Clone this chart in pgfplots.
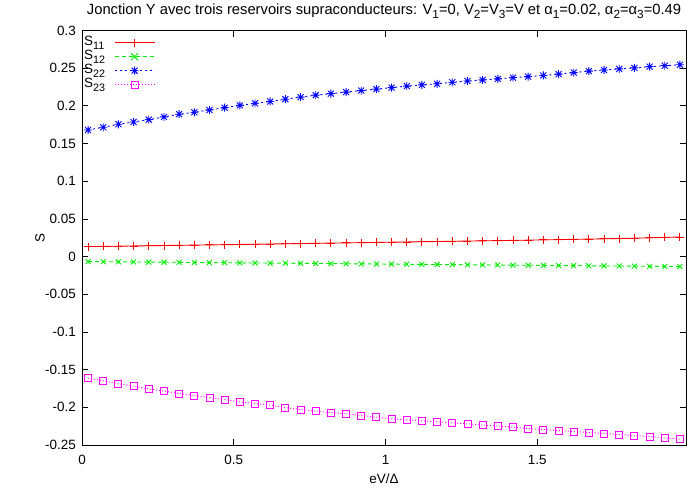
\documentclass[border=0pt]{standalone}
\usepackage{fontspec}
\setmainfont{Liberation Sans}
\usepackage{pgfplots}
\usepackage{pgfplotstable}
\pgfplotsset{compat=1.18}
\definecolor{gred}{RGB}{255,0,0}
\definecolor{ggreen}{RGB}{0,235,0}
\definecolor{gblue}{RGB}{0,0,255}
\definecolor{gmag}{RGB}{255,0,255}
\newcommand\sub[1]{\raisebox{-0.3em}{\fontsize{0.8\dimexpr\fontdimen6\font\relax}{1em}\selectfont #1}}
\pgfdeclareplotmark{pluscross}{%
  \pgfpathmoveto{\pgfqpoint{-\pgfplotmarksize}{0pt}}\pgfpathlineto{\pgfqpoint{\pgfplotmarksize}{0pt}}%
  \pgfpathmoveto{\pgfqpoint{0pt}{-\pgfplotmarksize}}\pgfpathlineto{\pgfqpoint{0pt}{\pgfplotmarksize}}%
  \pgfpathmoveto{\pgfqpoint{-0.75\pgfplotmarksize}{-0.75\pgfplotmarksize}}\pgfpathlineto{\pgfqpoint{0.75\pgfplotmarksize}{0.75\pgfplotmarksize}}%
  \pgfpathmoveto{\pgfqpoint{-0.75\pgfplotmarksize}{0.75\pgfplotmarksize}}\pgfpathlineto{\pgfqpoint{0.75\pgfplotmarksize}{-0.75\pgfplotmarksize}}%
  \pgfusepathqstroke}
\pgfplotstableread{
x s11 s12 s22 s23
0.02 0.0133 -0.0066 0.1680 -0.1613
0.07 0.0135 -0.0068 0.1716 -0.1649
0.12 0.0138 -0.0069 0.1756 -0.1688
0.17 0.0141 -0.0071 0.1786 -0.1719
0.22 0.0144 -0.0073 0.1817 -0.1755
0.27 0.0147 -0.0074 0.1853 -0.1785
0.32 0.0150 -0.0076 0.1889 -0.1817
0.37 0.0152 -0.0078 0.1915 -0.1844
0.42 0.0155 -0.0080 0.1946 -0.1870
0.47 0.0158 -0.0081 0.1976 -0.1897
0.52 0.0161 -0.0083 0.2006 -0.1927
0.57 0.0164 -0.0085 0.2034 -0.1950
0.62 0.0167 -0.0086 0.2058 -0.1971
0.67 0.0170 -0.0088 0.2088 -0.2003
0.72 0.0173 -0.0090 0.2116 -0.2029
0.77 0.0176 -0.0091 0.2142 -0.2050
0.82 0.0179 -0.0093 0.2162 -0.2069
0.87 0.0182 -0.0095 0.2183 -0.2086
0.92 0.0185 -0.0097 0.2203 -0.2109
0.97 0.0188 -0.0098 0.2222 -0.2130
1.02 0.0191 -0.0100 0.2242 -0.2153
1.07 0.0194 -0.0102 0.2262 -0.2166
1.12 0.0197 -0.0103 0.2278 -0.2179
1.17 0.0200 -0.0105 0.2293 -0.2193
1.22 0.0203 -0.0107 0.2313 -0.2206
1.27 0.0206 -0.0108 0.2330 -0.2219
1.32 0.0209 -0.0110 0.2344 -0.2236
1.37 0.0212 -0.0112 0.2358 -0.2249
1.42 0.0215 -0.0114 0.2374 -0.2263
1.47 0.0218 -0.0115 0.2388 -0.2281
1.52 0.0222 -0.0117 0.2403 -0.2294
1.57 0.0225 -0.0119 0.2421 -0.2308
1.62 0.0229 -0.0120 0.2442 -0.2321
1.67 0.0232 -0.0122 0.2461 -0.2334
1.72 0.0236 -0.0124 0.2476 -0.2347
1.77 0.0240 -0.0125 0.2490 -0.2361
1.82 0.0244 -0.0127 0.2504 -0.2374
1.87 0.0249 -0.0129 0.2520 -0.2387
1.92 0.0254 -0.0131 0.2533 -0.2405
1.97 0.0260 -0.0133 0.2546 -0.2422
}\datatable
\begin{document}
\fontsize{13.5}{16}\selectfont
\begin{tikzpicture}
\begin{axis}[
  scale only axis,
  width=604bp, height=414.5bp,
  xmin=0, xmax=1.99, ymin=-0.25, ymax=0.3,
  xtick={0,0.5,1,1.5}, xticklabels={0,0.5,1,1.5},
  ytick={-0.25,-0.2,-0.15,-0.1,-0.05,0,0.05,0.1,0.15,0.2,0.25,0.3},
  yticklabels={-0.25,-0.2,-0.15,-0.1,-0.05,0,0.05,0.1,0.15,0.2,0.25,0.3},
  tick align=inside, major tick length=6bp,
  tick style={black, line width=0.8pt},
  axis line style={black, line width=0.9pt},
  xticklabel style={anchor=base, yshift=-19bp, inner sep=0pt},
  yticklabel style={anchor=east, xshift=-6bp, inner sep=0pt},
  title={\fontsize{14.8}{17}\selectfont Jonction Y avec trois reservoirs supraconducteurs: V\sub{1}=0, V\sub{2}=V\sub{3}=V et α\sub{1}=0.02, α\sub{2}=α\sub{3}=0.49},
  title style={at={(axis description cs:0.5,1)}, anchor=base, yshift=10.5bp, inner sep=0pt},
  xlabel={eV/Δ},
  xlabel style={at={(axis description cs:0.5,0)}, anchor=base, yshift=-38bp, inner sep=0pt},
  ylabel={S},
  ylabel style={at={([xshift=-42bp]axis description cs:0,0.5)}, anchor=center, inner sep=0pt},
  legend plot pos=right,
  legend cell align=left,
  legend style={at={(axis description cs:0,1)}, anchor=north west, fill=none, draw=none,
    xshift=1bp, yshift=-5bp, row sep=0pt, inner sep=0pt,
    nodes={inner ysep=0pt, inner xsep=1pt, text height=9.5bp, text depth=4.5bp},
    /tikz/every odd column/.style={column sep=8bp}},
]
\addplot[color=gred, line width=0.9pt, mark=+, mark size=4bp, mark options={solid, gred},
  legend image code/.code={\draw[gred, solid, line width=0.9pt] (0bp,0bp) -- (40bp,0bp); \draw[gred, solid, line width=0.9pt] (20bp,-4bp) -- (20bp,4bp) (16bp,0bp) -- (24bp,0bp);}]
  table[x=x, y=s11] {\datatable};
\addlegendentry{S\sub{11}}
\addplot[color=ggreen, line width=0.9pt, dash pattern=on 4bp off 3bp, mark=x, mark size=3.5bp, mark options={solid, ggreen},
  legend image code/.code={\draw[ggreen, line width=0.9pt, dash pattern=on 4bp off 3bp] (0bp,0bp) -- (40bp,0bp); \draw[ggreen, solid, line width=0.9pt] (16.5bp,-3.5bp) -- (23.5bp,3.5bp) (16.5bp,3.5bp) -- (23.5bp,-3.5bp);}]
  table[x=x, y=s12] {\datatable};
\addlegendentry{S\sub{12}}
\addplot[color=gblue, line width=0.9pt, dash pattern=on 2bp off 3bp, mark=pluscross, mark size=4bp, mark options={solid, gblue},
  legend image code/.code={\draw[gblue, line width=0.9pt, dash pattern=on 2bp off 3bp] (0bp,0bp) -- (40bp,0bp); \draw[gblue, solid, line width=0.9pt] (20bp,-4bp) -- (20bp,4bp) (16bp,0bp) -- (24bp,0bp) (17bp,-3bp) -- (23bp,3bp) (17bp,3bp) -- (23bp,-3bp);}]
  table[x=x, y=s22] {\datatable};
\addlegendentry{S\sub{22}}
\addplot[color=gmag, line width=0.9pt, dash pattern=on 1bp off 2bp, mark=square, mark size=3.5bp, mark options={solid, gmag},
  legend image code/.code={\draw[gmag, line width=0.9pt, dash pattern=on 1bp off 2bp] (0bp,0bp) -- (40bp,0bp); \draw[gmag, solid, line width=0.9pt] (16.5bp,-3.5bp) rectangle (23.5bp,3.5bp);}]
  table[x=x, y=s23] {\datatable};
\addlegendentry{S\sub{23}}
\end{axis}
\pgfresetboundingbox
\path (-82bp,-45bp) rectangle (605bp,445bp);
\end{tikzpicture}
\end{document}
